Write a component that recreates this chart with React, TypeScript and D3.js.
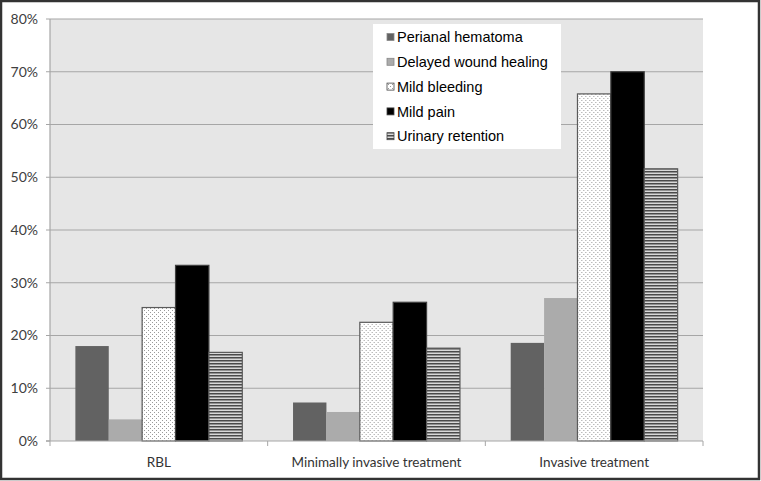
import React from "react";
import * as d3 from "d3";

const categories = ["RBL", "Minimally invasive treatment", "Invasive treatment"];
const seriesNames = ["Perianal hematoma", "Delayed wound healing", "Mild bleeding", "Mild pain", "Urinary retention"];
const perianalHematoma = [18.0, 7.3, 18.6];
const delayedWoundHealing = [4.1, 5.5, 27.1];
const mildBleeding = [25.3, 22.5, 65.8];
const mildPain = [33.3, 26.3, 70.0];
const urinaryRetention = [16.8, 17.6, 51.6];
const yTicks = [0, 10, 20, 30, 40, 50, 60, 70, 80];

const seriesValues = [perianalHematoma, delayedWoundHealing, mildBleeding, mildPain, urinaryRetention];
const fills = ["#626262", "#ababab", "url(#dots)", "#000000", "url(#stripes)"];
const strokes = ["none", "none", "#5a5a5a", "#404040", "#5a5a5a"];

const W = 761, H = 481;
const M = { left: 50, right: 703, top: 19, bottom: 441 };

export default function App() {
  const x0 = d3.scaleBand<string>().domain(categories).range([M.left, M.right]).paddingInner(0).paddingOuter(0);
  const x1 = d3.scaleBand<string>().domain(seriesNames).range([0, x0.bandwidth()]).paddingInner(0).paddingOuter(0.76);
  const y = d3.scaleLinear().domain([0, 80]).range([M.bottom, M.top]);
  const axisFont = "Lato, 'Open Sans', sans-serif";
  const legFont = "'Liberation Sans', Arial, sans-serif";

  return (
    <svg width={W} height={H} style={{ position: "absolute", left: 0, top: 0, display: "block" }}>
      <defs>
        <pattern id="dots" width="4" height="4" patternUnits="userSpaceOnUse">
          <rect width="4" height="4" fill="#ffffff" />
          <rect x="0" y="0" width="1" height="1" fill="#9a9a9a" />
          <rect x="2" y="2" width="1" height="1" fill="#9a9a9a" />
        </pattern>
        <pattern id="stripes" width="3" height="3" patternUnits="userSpaceOnUse">
          <rect width="3" height="3" fill="#d8d8d8" />
          <rect x="0" y="0" width="3" height="1.5" fill="#4a4a4a" />
        </pattern>
      </defs>
      <rect x={0} y={0} width={W} height={H} fill="#ffffff" />
      <rect x={1} y={1} width={W - 3} height={H - 3} fill="none" stroke="#333" strokeWidth={2.5} />
      <rect x={M.left} y={M.top} width={M.right - M.left} height={M.bottom - M.top} fill="#e6e6e6" />
      {yTicks.map((t) => (
        <g key={t}>
          <line x1={M.left - 4} x2={t === 0 ? M.left : M.right} y1={y(t)} y2={y(t)} stroke="#a6a6a6" strokeWidth={1.2} />
          <text x={38} y={y(t)} dy="0.35em" textAnchor="end" fontFamily={axisFont} fontSize={14} fill="#404040">{t}%</text>
        </g>
      ))}
      <line x1={M.left} x2={M.left} y1={M.top} y2={M.bottom} stroke="#a6a6a6" strokeWidth={1.2} />
      {categories.map((c, ci) => (
        <g key={c} transform={`translate(${x0(c)},0)`}>
          {seriesNames.map((s, si) => {
            const v = seriesValues[si][ci];
            return (
              <rect key={s} x={x1(s)} y={y(v)} width={x1.bandwidth()} height={y(0) - y(v)}
                fill={fills[si]} stroke={strokes[si]} strokeWidth={strokes[si] === "none" ? 0 : 1.2} />
            );
          })}
        </g>
      ))}
      <line x1={M.left - 4} x2={M.right} y1={M.bottom} y2={M.bottom} stroke="#a6a6a6" strokeWidth={1.2} />
      {categories.map((c) => (
        <line key={"t" + c} x1={(x0(c) as number) + x0.bandwidth()} x2={(x0(c) as number) + x0.bandwidth()} y1={M.bottom} y2={M.bottom + 5} stroke="#a6a6a6" />
      ))}
      <line x1={M.left} x2={M.left} y1={M.bottom} y2={M.bottom + 5} stroke="#a6a6a6" />
      {categories.map((c) => (
        <text key={"l" + c} x={(x0(c) as number) + x0.bandwidth() / 2} y={467} textAnchor="middle" fontFamily={axisFont} fontSize={13.5} fill="#333">{c}</text>
      ))}
      <rect x={373} y={24} width={188} height={125} fill="#ffffff" />
      {seriesNames.map((s, i) => {
        const cy = 37 + i * 24.8;
        return (
          <g key={"lg" + s}>
            <rect x={387} y={cy - 3.5} width={7} height={7} fill={fills[i]} stroke={i === 0 || i === 1 ? "#888" : "#444"} strokeWidth={0.8} />
            <text x={397} y={cy} dy="0.36em" fontFamily={legFont} fontSize={14.5} fill="#000">{s}</text>
          </g>
        );
      })}
    </svg>
  );
}
